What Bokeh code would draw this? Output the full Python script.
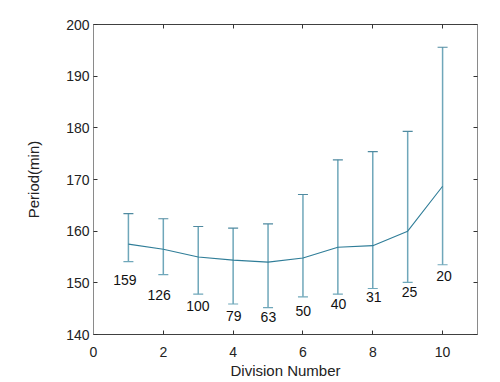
from bokeh.plotting import figure
from bokeh.models import ColumnDataSource, Whisker, TeeHead, LinearAxis, Range1d, FixedTicker
from bokeh.core.properties import value
from bokeh.embed import file_html
from bokeh.resources import INLINE

division = [1, 2, 3, 4, 5, 6, 7, 8, 9, 10]
period_mean = [157.5, 156.5, 155.0, 154.4, 154.0, 154.8, 156.9, 157.2, 160.0, 168.7]
period_upper = [163.4, 162.4, 160.9, 160.6, 161.4, 167.1, 173.8, 175.4, 179.3, 195.6]
period_lower = [154.1, 151.6, 147.8, 145.9, 145.2, 147.3, 147.8, 148.9, 150.1, 153.5]
counts = ["159", "126", "100", "79", "63", "50", "40", "31", "25", "20"]
label_x = [0.9, 1.88, 2.99, 4.02, 5.01, 6.01, 7.02, 8.03, 9.05, 10.04]
label_y = [150.6, 147.6, 145.6, 143.6, 143.4, 144.5, 146.0, 147.3, 148.2, 151.3]
x_ticks = [0, 2, 4, 6, 8, 10]
y_ticks = [140, 150, 160, 170, 180, 190, 200]

FONT = "Liberation Sans"

src = ColumnDataSource(dict(x=division, y=period_mean, upper=period_upper, lower=period_lower))
lab = ColumnDataSource(dict(x=label_x, y=label_y, t=counts))

p = figure(width=491, height=381, output_backend="svg", toolbar_location=None,
           x_range=Range1d(0, 11), y_range=Range1d(140, 200),
           min_border_left=93, min_border_right=14, min_border_top=24, min_border_bottom=44)
p.outline_line_color = None
p.grid.visible = False
p.background_fill_color = "white"
p.border_fill_color = "white"

p.add_layout(Whisker(source=src, base="x", upper="upper", lower="lower",
                     line_color="#6fa7ba", line_width=1.5,
                     upper_head=TeeHead(size=10, line_color="#4f8aa0", line_width=1.2),
                     lower_head=TeeHead(size=10, line_color="#6fa7ba", line_width=1.2)))
p.line("x", "y", source=src, line_color="#2f7d98", line_width=1.1)
p.text("x", "y", text="t", source=lab, text_align="center", text_baseline="middle",
       text_font=value(FONT), text_font_size="14px", text_color="#111111")

xa = p.xaxis[0]
xa.ticker = FixedTicker(ticks=x_ticks)
ya = p.yaxis[0]
ya.ticker = FixedTicker(ticks=y_ticks)
for ax, col in ((xa, "#404040"), (ya, "#8a8a8a")):
    ax.axis_line_color = col
    ax.major_tick_line_color = "#333333"
    ax.major_tick_in = 4
    ax.major_tick_out = 0
    ax.minor_tick_line_color = None
    ax.major_label_text_font = FONT
    ax.major_label_text_font_size = "14px"
    ax.major_label_text_color = "#222222"
    ax.axis_label_text_font = FONT
    ax.axis_label_text_font_size = "15px"
    ax.axis_label_text_font_style = "normal"
    ax.axis_label_text_color = "#222222"
xa.axis_label = "Division Number"
ya.axis_label = "Period(min)"
xa.major_label_standoff = 12
ya.major_label_standoff = 4
xa.axis_label_standoff = 2
ya.axis_label_standoff = 21

top = LinearAxis(ticker=FixedTicker(ticks=x_ticks), major_label_text_font_size="0px",
                 axis_line_color="#404040", major_tick_line_color="#333333",
                 major_tick_in=4, major_tick_out=0, minor_tick_line_color=None,
                 major_label_standoff=0)
right = LinearAxis(ticker=FixedTicker(ticks=y_ticks), major_label_text_font_size="0px",
                   axis_line_color="#8a8a8a", major_tick_line_color="#333333",
                   major_tick_in=4, major_tick_out=0, minor_tick_line_color=None,
                   major_label_standoff=0)
top.major_label_overrides = {t: "" for t in x_ticks}
right.major_label_overrides = {t: "" for t in y_ticks}
p.add_layout(top, "above")
p.add_layout(right, "right")

open("out.html", "w").write(file_html(p, INLINE))
